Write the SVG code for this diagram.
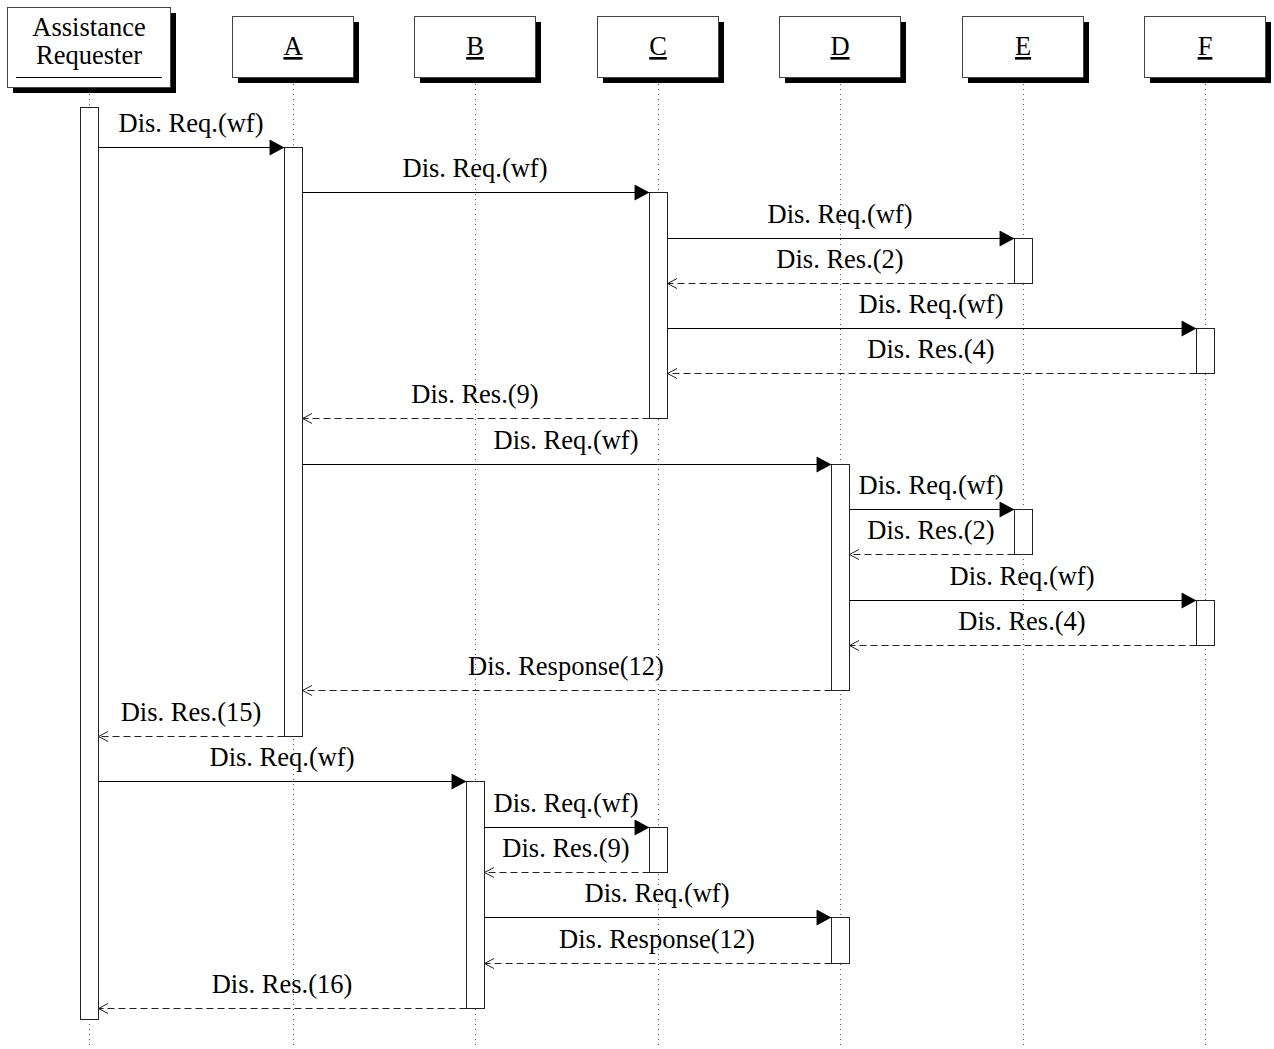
<svg xmlns="http://www.w3.org/2000/svg" width="1274" height="1049" viewBox="0 0 1274 1049">
<style>
text{font-family:"Liberation Serif","Times New Roman",serif;font-size:26.5px;fill:#000;text-anchor:middle}
.hdr{fill:#fff;stroke:#444;stroke-width:1}
.shd{fill:#000}
.life{stroke:#555;stroke-width:1;stroke-dasharray:1,4}
.bar{fill:#fff;stroke:#222;stroke-width:1}
.req{stroke:#000;stroke-width:1;fill:none;marker-end:url(#filled)}
.res{stroke:#222;stroke-width:1;fill:none;stroke-dasharray:7,4;marker-end:url(#open)}
.ul{text-decoration:underline}
</style>
<defs>
<marker id="filled" markerUnits="userSpaceOnUse" markerWidth="16" markerHeight="16" viewBox="0 0 14 15" refX="14" refY="7.5" orient="auto">
<path d="M0,0 L14,7.5 L0,15 Z" fill="#000"/>
</marker>
<marker id="open" markerUnits="userSpaceOnUse" markerWidth="13" markerHeight="13" viewBox="-1 -6.5 12 13" refX="9.5" refY="0" orient="auto">
<path d="M0,-5 L9.5,0 L0,5" fill="none" stroke="#222" stroke-width="1"/>
</marker>
</defs>

<g id="requester">
<rect class="shd" x="13" y="13" width="163" height="80"/>
<rect class="hdr" x="7.5" y="7.5" width="163" height="80"/>
<text x="89" y="36">Assistance</text>
<text x="89" y="64">Requester</text>
<line x1="16" y1="77.5" x2="162" y2="77.5" stroke="#000" stroke-width="1"/>
<line class="life" x1="89.5" y1="94" x2="89.5" y2="1049"/>
<rect class="bar" x="80.5" y="107.5" width="18" height="912"/>
</g>

<g id="A">
<rect class="shd" x="238" y="22" width="121" height="61"/>
<rect class="hdr" x="232.5" y="16.5" width="121" height="61"/>
<text class="ul" x="293" y="55">A</text>
<line class="life" x1="293.5" y1="84" x2="293.5" y2="1049"/>
<rect class="bar" x="284.5" y="147.5" width="18" height="589"/>
</g>

<g id="B">
<rect class="shd" x="420" y="22" width="121" height="61"/>
<rect class="hdr" x="414.5" y="16.5" width="121" height="61"/>
<text class="ul" x="475" y="55">B</text>
<line class="life" x1="475.5" y1="84" x2="475.5" y2="1049"/>
<rect class="bar" x="466.5" y="781.5" width="18" height="227"/>
</g>

<g id="C">
<rect class="shd" x="603" y="22" width="121" height="61"/>
<rect class="hdr" x="597.5" y="16.5" width="121" height="61"/>
<text class="ul" x="658" y="55">C</text>
<line class="life" x1="658.5" y1="84" x2="658.5" y2="1049"/>
<rect class="bar" x="649.5" y="192.5" width="18" height="226"/>
<rect class="bar" x="649.5" y="827.5" width="18" height="45"/>
</g>

<g id="D">
<rect class="shd" x="785" y="22" width="121" height="61"/>
<rect class="hdr" x="779.5" y="16.5" width="121" height="61"/>
<text class="ul" x="840" y="55">D</text>
<line class="life" x1="840.5" y1="84" x2="840.5" y2="1049"/>
<rect class="bar" x="831.5" y="464.5" width="18" height="226"/>
<rect class="bar" x="831.5" y="917.5" width="18" height="46"/>
</g>

<g id="E">
<rect class="shd" x="968" y="22" width="121" height="61"/>
<rect class="hdr" x="962.5" y="16.5" width="121" height="61"/>
<text class="ul" x="1023" y="55">E</text>
<line class="life" x1="1023.5" y1="84" x2="1023.5" y2="1049"/>
<rect class="bar" x="1014.5" y="238.5" width="18" height="45"/>
<rect class="bar" x="1014.5" y="509.5" width="18" height="45"/>
</g>

<g id="F">
<rect class="shd" x="1150" y="22" width="121" height="61"/>
<rect class="hdr" x="1144.5" y="16.5" width="121" height="61"/>
<text class="ul" x="1205" y="55">F</text>
<line class="life" x1="1205.5" y1="84" x2="1205.5" y2="1049"/>
<rect class="bar" x="1196.5" y="328.5" width="18" height="45"/>
<rect class="bar" x="1196.5" y="600.5" width="18" height="45"/>
</g>

<g id="connectors">
<line class="req" x1="98.5" y1="147.5" x2="284.5" y2="147.5"/>
<text x="191" y="132">Dis. Req.(wf)</text>
<line class="req" x1="302.5" y1="192.5" x2="649.5" y2="192.5"/>
<text x="475" y="177">Dis. Req.(wf)</text>
<line class="req" x1="667.5" y1="238.5" x2="1014.5" y2="238.5"/>
<text x="840" y="223">Dis. Req.(wf)</text>
<line class="res" x1="1014.5" y1="283.5" x2="667.5" y2="283.5"/>
<text x="840" y="268">Dis. Res.(2)</text>
<line class="req" x1="667.5" y1="328.5" x2="1196.5" y2="328.5"/>
<text x="931" y="313">Dis. Req.(wf)</text>
<line class="res" x1="1196.5" y1="373.5" x2="667.5" y2="373.5"/>
<text x="931" y="358">Dis. Res.(4)</text>
<line class="res" x1="649.5" y1="418.5" x2="302.5" y2="418.5"/>
<text x="475" y="403">Dis. Res.(9)</text>
<line class="req" x1="302.5" y1="464.5" x2="831.5" y2="464.5"/>
<text x="566" y="449">Dis. Req.(wf)</text>
<line class="req" x1="849.5" y1="509.5" x2="1014.5" y2="509.5"/>
<text x="931" y="494">Dis. Req.(wf)</text>
<line class="res" x1="1014.5" y1="554.5" x2="849.5" y2="554.5"/>
<text x="931" y="539">Dis. Res.(2)</text>
<line class="req" x1="849.5" y1="600.5" x2="1196.5" y2="600.5"/>
<text x="1022" y="585">Dis. Req.(wf)</text>
<line class="res" x1="1196.5" y1="645.5" x2="849.5" y2="645.5"/>
<text x="1022" y="630">Dis. Res.(4)</text>
<line class="res" x1="831.5" y1="690.5" x2="302.5" y2="690.5"/>
<text x="566" y="675">Dis. Response(12)</text>
<line class="res" x1="284.5" y1="736.5" x2="98.5" y2="736.5"/>
<text x="191" y="721">Dis. Res.(15)</text>
<line class="req" x1="98.5" y1="781.5" x2="466.5" y2="781.5"/>
<text x="282" y="766">Dis. Req.(wf)</text>
<line class="req" x1="484.5" y1="827.5" x2="649.5" y2="827.5"/>
<text x="566" y="812">Dis. Req.(wf)</text>
<line class="res" x1="649.5" y1="872.5" x2="484.5" y2="872.5"/>
<text x="566" y="857">Dis. Res.(9)</text>
<line class="req" x1="484.5" y1="917.5" x2="831.5" y2="917.5"/>
<text x="657" y="902">Dis. Req.(wf)</text>
<line class="res" x1="831.5" y1="963.5" x2="484.5" y2="963.5"/>
<text x="657" y="948">Dis. Response(12)</text>
<line class="res" x1="466.5" y1="1008.5" x2="98.5" y2="1008.5"/>
<text x="282" y="993">Dis. Res.(16)</text>
</g>
</svg>
